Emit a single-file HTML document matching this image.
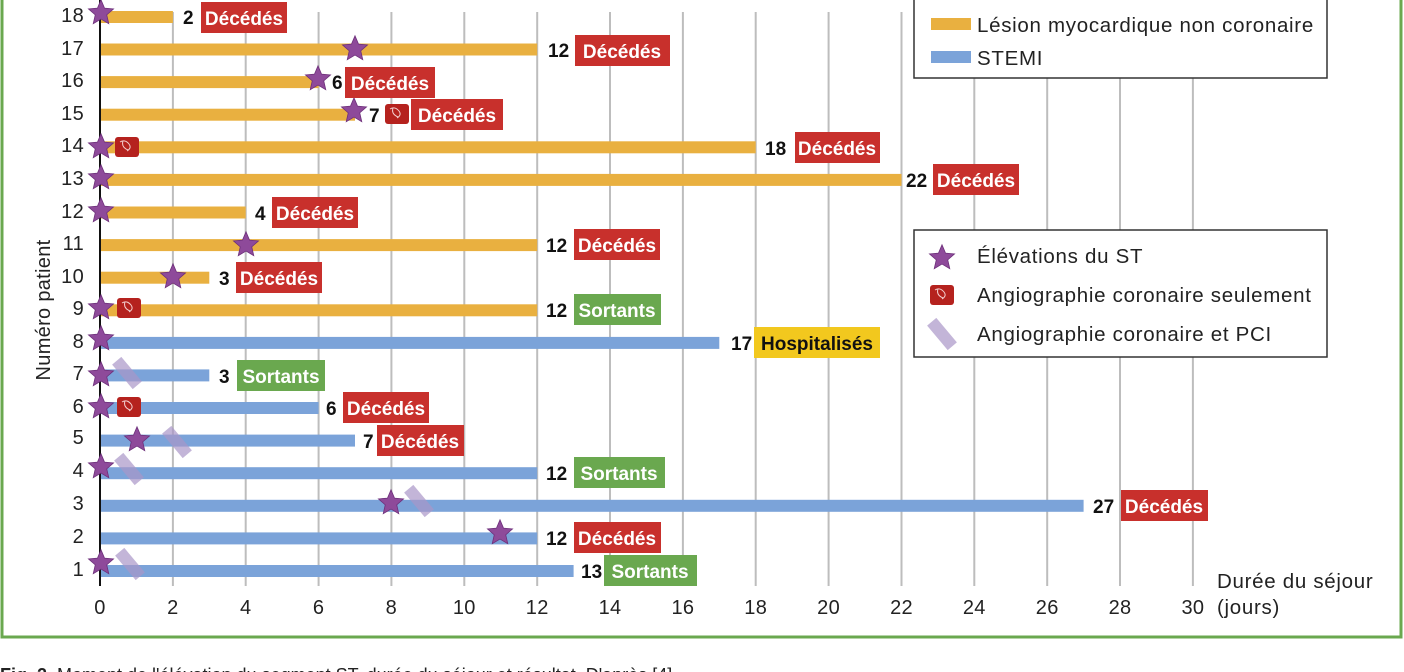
<!DOCTYPE html>
<html><head><meta charset="utf-8"><style>
html,body{margin:0;padding:0;background:#fff;width:1404px;height:672px;overflow:hidden}
svg{display:block;font-family:"Liberation Sans","DejaVu Sans",sans-serif}
.n{font-weight:bold;font-size:19px;fill:#111}
.b{font-weight:bold;font-size:19px;fill:#fff;text-anchor:middle}
.t{font-size:20px;fill:#222;text-anchor:middle;letter-spacing:0.3px}
.l{font-size:20.5px;fill:#222;letter-spacing:0.7px}
</style></head><body>
<svg width="1404" height="672" viewBox="0 0 1404 672">
<defs>
<polygon id="st" points="0,-13.2 3.55,-4.9 12.55,-4.08 5.75,1.87 7.76,10.68 0,6.05 -7.76,10.68 -5.75,1.87 -12.55,-4.08 -3.55,-4.9" fill="#8e4a9a" stroke="#6d2f7a" stroke-width="0.8"/>
<g id="an"><rect x="-12" y="-10" width="24" height="20" rx="3" fill="#b5221e"/><path d="M-7,-5 q5,-3 9,2 q3,4 -2,7 M-4,-6 q-2,6 5,9" stroke="#f3d0d0" stroke-width="1" fill="none"/></g>
<rect id="pc" x="-6" y="-16" width="12" height="32" fill="#a996c8" opacity="0.7" transform="rotate(-40)"/>
</defs>
<rect x="2" y="-10" width="1399" height="647" fill="none" stroke="#6aa84f" stroke-width="3"/>
<g stroke="#bdbdbd" stroke-width="2">
<line x1="172.9" y1="12" x2="172.9" y2="586"/><line x1="245.7" y1="12" x2="245.7" y2="586"/><line x1="318.6" y1="12" x2="318.6" y2="586"/><line x1="391.4" y1="12" x2="391.4" y2="586"/><line x1="464.3" y1="12" x2="464.3" y2="586"/><line x1="537.2" y1="12" x2="537.2" y2="586"/><line x1="610" y1="12" x2="610" y2="586"/><line x1="682.9" y1="12" x2="682.9" y2="586"/><line x1="755.7" y1="12" x2="755.7" y2="586"/><line x1="828.6" y1="12" x2="828.6" y2="586"/><line x1="901.5" y1="12" x2="901.5" y2="586"/><line x1="974.3" y1="12" x2="974.3" y2="586"/><line x1="1047.2" y1="12" x2="1047.2" y2="586"/><line x1="1120" y1="12" x2="1120" y2="586"/><line x1="1192.9" y1="12" x2="1192.9" y2="586"/>
</g>
<rect x="914" y="-5" width="413" height="83" fill="#fff" stroke="#333" stroke-width="1.5"/>
<rect x="931" y="18" width="40" height="12" fill="#e9b040"/><text class="l" x="977" y="32">Lésion myocardique non coronaire</text>
<rect x="931" y="51" width="40" height="12" fill="#7ba3d9"/><text class="l" x="977" y="65">STEMI</text>
<rect x="914" y="230" width="413" height="127" fill="#fff" stroke="#333" stroke-width="1.5"/>
<use href="#st" x="942" y="258"/><text class="l" x="977" y="263">Élévations du ST</text>
<use href="#an" x="942" y="295"/><text class="l" x="977" y="302">Angiographie coronaire seulement</text>
<use href="#pc" x="942" y="334"/><text class="l" x="977" y="341">Angiographie coronaire et PCI</text>
<g fill="#e9b040">
<rect x="100" y="11" width="72.9" height="12"/><rect x="100" y="43.5" width="437.2" height="12"/><rect x="100" y="76.1" width="218.6" height="12"/><rect x="100" y="108.7" width="255" height="12"/><rect x="100" y="141.3" width="655.7" height="12"/><rect x="100" y="173.9" width="801.5" height="12"/><rect x="100" y="206.5" width="145.7" height="12"/><rect x="100" y="239.1" width="437.2" height="12"/><rect x="100" y="271.7" width="109.3" height="12"/><rect x="100" y="304.3" width="437.2" height="12"/>
</g>
<g fill="#7ba3d9">
<rect x="100" y="336.9" width="619.3" height="12"/><rect x="100" y="369.4" width="109.3" height="12"/><rect x="100" y="402" width="218.6" height="12"/><rect x="100" y="434.6" width="255" height="12"/><rect x="100" y="467.2" width="437.2" height="12"/><rect x="100" y="499.8" width="983.6" height="12"/><rect x="100" y="532.4" width="437.2" height="12"/><rect x="100" y="565" width="473.6" height="12"/>
</g>
<line x1="100" y1="0" x2="100" y2="586" stroke="#111" stroke-width="2"/>
<use href="#pc" x="127" y="373"/><use href="#pc" x="177" y="442"/><use href="#pc" x="129" y="469"/><use href="#pc" x="419" y="501"/><use href="#pc" x="130" y="564"/>
<use href="#an" x="127" y="147"/><use href="#an" x="397" y="114"/><use href="#an" x="129" y="308"/><use href="#an" x="129" y="407"/>
<use href="#st" x="101" y="13"/><use href="#st" x="355" y="49"/><use href="#st" x="318" y="79"/><use href="#st" x="354" y="111"/><use href="#st" x="101" y="147"/><use href="#st" x="101" y="178"/><use href="#st" x="101" y="211"/><use href="#st" x="246" y="245"/><use href="#st" x="173" y="277"/><use href="#st" x="101" y="308"/><use href="#st" x="101" y="339"/><use href="#st" x="101" y="375"/><use href="#st" x="101" y="407"/><use href="#st" x="137" y="440"/><use href="#st" x="101" y="467"/><use href="#st" x="391" y="503"/><use href="#st" x="500" y="533"/><use href="#st" x="101" y="563"/>
<g>
<text class="n" x="183" y="24">2</text><rect x="201" y="2" width="86" height="31" fill="#c8302c"/><text class="b" x="244" y="25">Décédés</text>
<text class="n" x="548" y="57">12</text><rect x="575" y="35" width="95" height="31" fill="#c8302c"/><text class="b" x="622" y="58">Décédés</text>
<text class="n" x="332" y="89">6</text><rect x="345" y="67" width="90" height="31" fill="#c8302c"/><text class="b" x="390" y="90">Décédés</text>
<text class="n" x="369" y="122">7</text><rect x="411" y="99" width="92" height="31" fill="#c8302c"/><text class="b" x="457" y="122">Décédés</text>
<text class="n" x="765" y="155">18</text><rect x="795" y="132" width="85" height="31" fill="#c8302c"/><text class="b" x="837" y="155">Décédés</text>
<text class="n" x="906" y="187">22</text><rect x="933" y="164" width="86" height="31" fill="#c8302c"/><text class="b" x="976" y="187">Décédés</text>
<text class="n" x="255" y="220">4</text><rect x="272" y="197" width="86" height="31" fill="#c8302c"/><text class="b" x="315" y="220">Décédés</text>
<text class="n" x="546" y="252">12</text><rect x="574" y="229" width="86" height="31" fill="#c8302c"/><text class="b" x="617" y="252">Décédés</text>
<text class="n" x="219" y="285">3</text><rect x="236" y="262" width="86" height="31" fill="#c8302c"/><text class="b" x="279" y="285">Décédés</text>
<text class="n" x="546" y="317">12</text><rect x="574" y="294" width="87" height="31" fill="#6aa84f"/><text class="b" x="617" y="317">Sortants</text>
<text class="n" x="731" y="350">17</text><rect x="754" y="327" width="126" height="31" fill="#f2c81e"/><text class="b" x="817" y="350" style="fill:#111">Hospitalisés</text>
<text class="n" x="219" y="383">3</text><rect x="237" y="360" width="88" height="31" fill="#6aa84f"/><text class="b" x="281" y="383">Sortants</text>
<text class="n" x="326" y="415">6</text><rect x="343" y="392" width="86" height="31" fill="#c8302c"/><text class="b" x="386" y="415">Décédés</text>
<text class="n" x="363" y="448">7</text><rect x="377" y="425" width="87" height="31" fill="#c8302c"/><text class="b" x="420" y="448">Décédés</text>
<text class="n" x="546" y="480">12</text><rect x="574" y="457" width="91" height="31" fill="#6aa84f"/><text class="b" x="619" y="480">Sortants</text>
<text class="n" x="1093" y="513">27</text><rect x="1121" y="490" width="87" height="31" fill="#c8302c"/><text class="b" x="1164" y="513">Décédés</text>
<text class="n" x="546" y="545">12</text><rect x="574" y="522" width="87" height="31" fill="#c8302c"/><text class="b" x="617" y="545">Décédés</text>
<text class="n" x="581" y="578">13</text><rect x="604" y="555" width="93" height="31" fill="#6aa84f"/><text class="b" x="650" y="578">Sortants</text>
</g>
<g class="t" style="text-anchor:end">
<text x="84" y="22">18</text><text x="84" y="55">17</text><text x="84" y="87">16</text><text x="84" y="120">15</text><text x="84" y="152">14</text><text x="84" y="185">13</text><text x="84" y="218">12</text><text x="84" y="250">11</text><text x="84" y="283">10</text><text x="84" y="315">9</text><text x="84" y="348">8</text><text x="84" y="380">7</text><text x="84" y="413">6</text><text x="84" y="444">5</text><text x="84" y="477">4</text><text x="84" y="510">3</text><text x="84" y="543">2</text><text x="84" y="576">1</text>
</g>
<text class="t" transform="translate(50,310) rotate(-90)">Numéro patient</text>
<g class="t">
<text x="100" y="614">0</text><text x="172.9" y="614">2</text><text x="245.7" y="614">4</text><text x="318.6" y="614">6</text><text x="391.4" y="614">8</text><text x="464.3" y="614">10</text><text x="537.2" y="614">12</text><text x="610" y="614">14</text><text x="682.9" y="614">16</text><text x="755.7" y="614">18</text><text x="828.6" y="614">20</text><text x="901.5" y="614">22</text><text x="974.3" y="614">24</text><text x="1047.2" y="614">26</text><text x="1120" y="614">28</text><text x="1192.9" y="614">30</text>
</g>
<text class="l" x="1217" y="588">Durée du séjour</text>
<text class="l" x="1217" y="614">(jours)</text>
<text x="0" y="681" style="font-size:18px;fill:#222"><tspan font-weight="bold">Fig. 2.</tspan> Moment de l'élévation du segment ST, durée du séjour et résultat. D'après [4].</text>
</svg>
</body></html>
